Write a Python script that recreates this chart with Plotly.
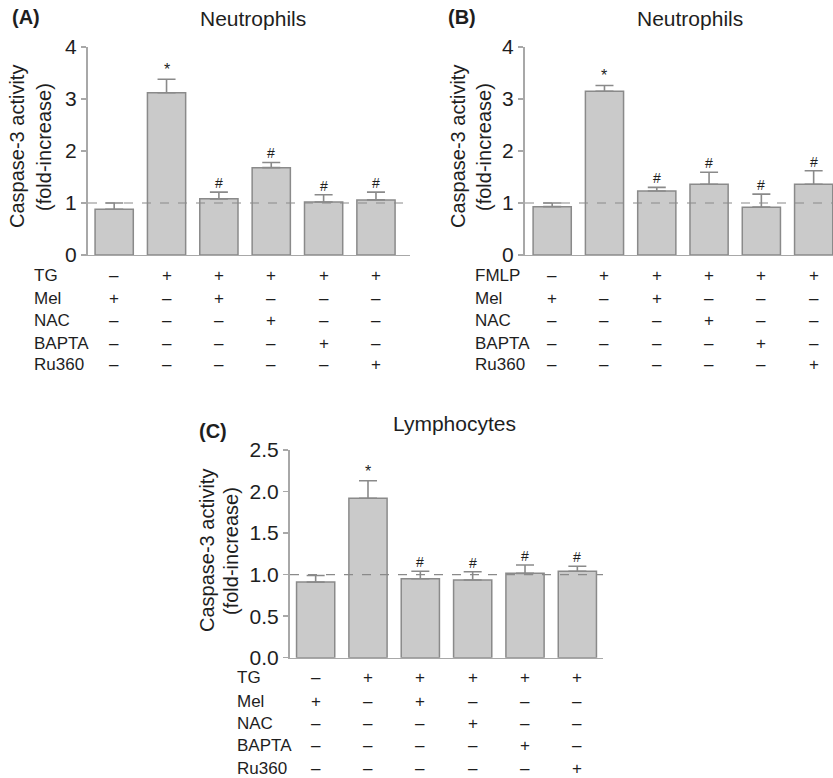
import plotly.graph_objects as go

W, H = 833, 778
FONT = "Liberation Sans, Arial, sans-serif"
TXT = "#1e1e1e"

cats = [0, 1, 2, 3, 4, 5]

# Panel A: Neutrophils, TG
a_vals = [0.88, 3.12, 1.08, 1.68, 1.02, 1.06]
a_err = [0.12, 0.26, 0.13, 0.10, 0.14, 0.15]
a_marks = ["", "*", "#", "#", "#", "#"]

# Panel B: Neutrophils, FMLP
b_vals = [0.93, 3.15, 1.23, 1.36, 0.92, 1.36]
b_err = [0.07, 0.11, 0.07, 0.23, 0.25, 0.26]
b_marks = ["", "*", "#", "#", "#", "#"]

# Panel C: Lymphocytes, TG
c_vals = [0.91, 1.92, 0.95, 0.935, 1.015, 1.04]
c_err = [0.08, 0.21, 0.09, 0.10, 0.10, 0.06]
c_marks = ["", "*", "#", "#", "#", "#"]

row_labels_ac = ["TG", "Mel", "NAC", "BAPTA", "Ru360"]
row_labels_b = ["FMLP", "Mel", "NAC", "BAPTA", "Ru360"]
P, M = "+", "\u2013"
treat = [
    [M, P, P, P, P, P],
    [P, M, P, M, M, M],
    [M, M, M, P, M, M],
    [M, M, M, M, P, M],
    [M, M, M, M, M, P],
]

def px(x):
    return x / W

def py(y):
    return 1 - y / H

fig = go.Figure()

panels = [
    dict(vals=a_vals, err=a_err, marks=a_marks, xa="x", ya="y", rows=row_labels_ac,
         row_y=[275, 298, 320, 343, 365], label_x=32, title="Neutrophils", title_xy=(253, 18),
         tag="(A)", tag_xy=(10, 17), ytitle_x=(17, 44), ytitle_y=147),
    dict(vals=b_vals, err=b_err, marks=b_marks, xa="x2", ya="y2", rows=row_labels_b,
         row_y=[275, 298, 320, 343, 365], label_x=473, title="Neutrophils", title_xy=(690, 18),
         tag="(B)", tag_xy=(446, 17), ytitle_x=(458, 484), ytitle_y=147),
    dict(vals=c_vals, err=c_err, marks=c_marks, xa="x3", ya="y3", rows=row_labels_ac,
         row_y=[677, 701, 723, 745, 768], label_x=235, title="Lymphocytes", title_xy=(455, 423),
         tag="(C)", tag_xy=(197, 431), ytitle_x=(207, 231), ytitle_y=551),
]

ann = []
shapes = []
for p in panels:
    fig.add_trace(go.Bar(
        x=cats, y=p["vals"], xaxis=p["xa"], yaxis=p["ya"], width=0.73,
        marker=dict(color="#cacaca", line=dict(color="#8a8a8a", width=1.5)),
        error_y=dict(type="data", symmetric=False, array=p["err"],
                     arrayminus=[0] * 6, color="#8a8a8a", thickness=1.6, width=9),
        showlegend=False, hoverinfo="skip",
    ))
    for c, v, e, m in zip(cats, p["vals"], p["err"], p["marks"]):
        if m:
            ann.append(dict(x=c, y=v + e, xref=p["xa"], yref=p["ya"], text=m,
                            showarrow=False, yanchor="bottom", yshift=-1,
                            font=dict(family=FONT, size=16 if m == "*" else 14, color=TXT)))
    for r, (lab, ry) in enumerate(zip(p["rows"], p["row_y"])):
        ann.append(dict(x=px(p["label_x"]), y=py(ry), xref="paper", yref="paper", text=lab,
                        showarrow=False, xanchor="left", yanchor="middle",
                        font=dict(family=FONT, size=17, color=TXT)))
        for c in cats:
            ann.append(dict(x=c, y=py(ry), xref=p["xa"], yref="paper", text=treat[r][c],
                            showarrow=False, xanchor="center", yanchor="middle",
                            font=dict(family=FONT, size=17, color=TXT)))
    ann.append(dict(x=px(p["title_xy"][0]), y=py(p["title_xy"][1]), xref="paper", yref="paper",
                    text=p["title"], showarrow=False, xanchor="center", yanchor="middle",
                    font=dict(family=FONT, size=21, color=TXT)))
    ann.append(dict(x=px(p["tag_xy"][0]), y=py(p["tag_xy"][1]), xref="paper", yref="paper",
                    text="<b>" + p["tag"] + "</b>", showarrow=False, xanchor="left", yanchor="middle",
                    font=dict(family=FONT, size=20, color=TXT)))
    for txt, tx in zip(["Caspase-3 activity", "(fold-increase)"], p["ytitle_x"]):
        ann.append(dict(x=px(tx), y=py(p["ytitle_y"]), xref="paper", yref="paper", text=txt,
                        showarrow=False, textangle=-90, xanchor="center", yanchor="middle",
                        font=dict(family=FONT, size=20, color=TXT)))
    shapes.append(dict(type="line", xref=p["xa"] + " domain", yref=p["ya"], x0=0, x1=1, y0=1, y1=1,
                       line=dict(color="#8a8a8a", width=1.2, dash="dash")))

axis_common = dict(showgrid=False, zeroline=False, showline=True, linecolor="#a8a8a8",
                   linewidth=2, automargin=False, fixedrange=True)
xcommon = dict(axis_common, showticklabels=False, ticks="", linewidth=1.2)
ycommon = dict(axis_common, ticks="outside", ticklen=5, tickwidth=1.5, tickcolor="#a8a8a8",
               tickfont=dict(family=FONT, size=21, color=TXT))

fig.update_layout(
    width=W, height=H, margin=dict(l=0, r=0, t=0, b=0, pad=0, autoexpand=False),
    paper_bgcolor="white", plot_bgcolor="white", hovermode=False,
    xaxis=dict(xcommon, domain=[px(88), px(410)], range=[-0.5, 5.65], anchor="y"),
    yaxis=dict(ycommon, domain=[py(255), py(47)], range=[0, 4], tickvals=[0, 1, 2, 3, 4], anchor="x"),
    xaxis2=dict(xcommon, domain=[px(525), 1.0], range=[-0.52, 5.37], anchor="y2"),
    yaxis2=dict(ycommon, domain=[py(255), py(47)], range=[0, 4], tickvals=[0, 1, 2, 3, 4], anchor="x2"),
    xaxis3=dict(xcommon, domain=[px(290), px(603)], range=[-0.49, 5.49], anchor="y3"),
    yaxis3=dict(ycommon, domain=[py(657.7), py(450)], range=[0, 2.5],
                tickvals=[0, 0.5, 1, 1.5, 2, 2.5], tickformat=".1f", anchor="x3"),
    annotations=ann, shapes=shapes,
)

fig.write_html("out.html", config={"displayModeBar": False, "staticPlot": True},
               post_script="document.body.style.margin='0';document.body.style.overflow='hidden';")
